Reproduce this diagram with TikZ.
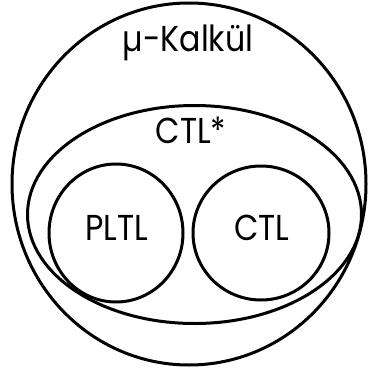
\documentclass[tikz,border=0pt]{standalone}
\usepackage{fontspec}
\setmainfont{Poppins}[FakeStretch=0.88]
\begin{document}
\begin{tikzpicture}[x=1pt, y=-1pt, set/.style={line width=3pt}, lbl/.style={inner sep=0pt, font=\fontsize{36}{36}\selectfont}]
      \useasboundingbox (0,0) rectangle (367,369);

      \coordinate (mu) at (189,184);
      \coordinate (ctlstar) at (194.5,214.5);
      \coordinate (pltl) at (116,233);
      \coordinate (ctl) at (261,233);

      \draw [set] (mu) ellipse [x radius=177, y radius=181];
      \draw [set] (ctlstar) ellipse [x radius=167, y radius=109];
      \draw [set] (pltl) ellipse [x radius=67, y radius=69];
      \draw [set] (ctl) ellipse [x radius=68, y radius=67];

      \node [lbl] (mulabel) at (188,43) {µ-Kalkül};
      \node [lbl] (ctlstarlabel) at (191,130) {CTL*};
      \node [lbl] (pltllabel) at (117,228) {PLTL};
      \node [lbl] (ctllabel) at (262,228) {CTL};
    \end{tikzpicture}
\end{document}
